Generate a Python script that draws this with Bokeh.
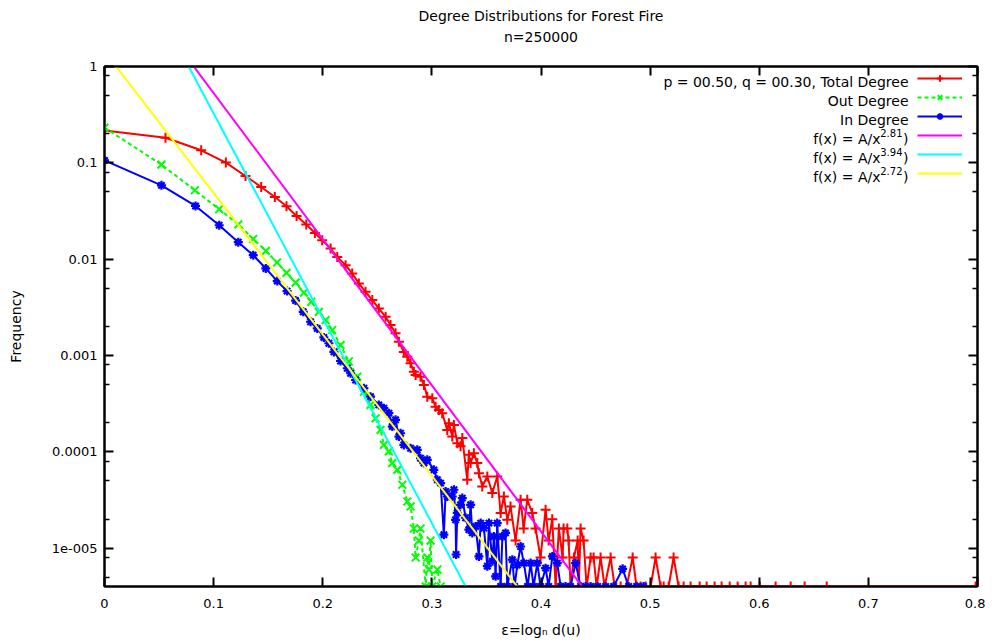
from bokeh.plotting import figure
from bokeh.models import (Range1d, FixedTicker, LogAxis, LinearAxis,
                          Legend, LegendItem, Label)
from bokeh.embed import file_html
from bokeh.resources import INLINE

N_NODES = 250000

# ---------------- data ----------------
total_eps = [0.0, 0.0559, 0.0886, 0.1112, 0.1292, 0.1436, 0.1561, 0.1668, 0.1760, 0.1849,
             0.1928, 0.1995, 0.2072, 0.2133, 0.2209, 0.2270, 0.2331, 0.2392, 0.2454, 0.2514,
             0.2576, 0.2621, 0.2667, 0.2698, 0.2743, 0.2775, 0.2805, 0.2835, 0.2851, 0.2896,
             0.2927, 0.2958, 0.3004, 0.3034, 0.3064, 0.3095, 0.3141, 0.3156, 0.3187, 0.3202,
             0.3233, 0.3263, 0.3279, 0.3324, 0.3339, 0.3355, 0.3385, 0.3416, 0.3431, 0.3462,
             0.3508, 0.3554, 0.3599, 0.3630, 0.3660, 0.3691, 0.3721, 0.3767, 0.3813, 0.3841,
             0.3874, 0.3920, 0.3950, 0.3996, 0.4042, 0.4070, 0.4103, 0.4134, 0.4164, 0.4198,
             0.4207, 0.4241, 0.4253, 0.4271, 0.4302, 0.4336, 0.4347, 0.4363, 0.4390, 0.4418,
             0.4455, 0.4482, 0.4510, 0.4546, 0.4583, 0.4638, 0.4675, 0.4730, 0.4785, 0.4840,
             0.4876, 0.4913, 0.4959, 0.5005, 0.5050, 0.5096, 0.5124, 0.5170, 0.5215, 0.5261,
             0.5307, 0.5371, 0.5454, 0.5518, 0.5591, 0.5655, 0.5729, 0.5802, 0.5875, 0.5921,
             0.6004, 0.6150, 0.6288, 0.6416, 0.6618, 0.7983]
total_freq = [0.217, 0.182, 0.135, 0.1005, 0.0730, 0.0561, 0.0442, 0.0354, 0.0281, 0.0229,
              0.0187, 0.01574, 0.01290, 0.01056, 0.00867, 0.00711, 0.00560, 0.00458, 0.00376, 0.00308,
              0.00252, 0.00207, 0.00170, 0.00139, 0.00109, 0.000972, 0.000830, 0.000679, 0.000628, 0.000603,
              0.000494, 0.000374, 0.000360, 0.000294, 0.000272, 0.000252, 0.000169, 0.000198, 0.000144, 0.000190,
              0.000123, 0.000114, 0.000139, 5.13e-5, 9.31e-5, 7.64e-5, 9.69e-5, 7.64e-5, 6.01e-5, 4.37e-5,
              5.55e-5, 3.73e-5, 5.55e-5, 2.32e-5, 3.44e-5, 1.97e-5, 2.71e-5, 1.2e-5, 3.18e-5, 1.6e-5,
              3.18e-5, 2.32e-5, 1.6e-5, 8e-6, 2.51e-5, 1.2e-5, 2e-5, 4e-6, 1.6e-5, 8e-6,
              1.6e-5, 1.6e-5, 1.2e-5, 4e-6, 8e-6, 1.2e-5, 4e-6, 1.6e-5, 1.2e-5, 4e-6,
              8e-6, 8e-6, 4e-6, 8e-6, 4e-6, 8e-6, 4e-6, 4e-6, 4e-6, 8e-6,
              4e-6, 4e-6, 4e-6, 4e-6, 8e-6, 4e-6, 4e-6, 4e-6, 8e-6, 4e-6,
              4e-6, 4e-6, 4e-6, 4e-6, 4e-6, 4e-6, 4e-6, 4e-6, 4e-6, 4e-6,
              4e-6, 4e-6, 4e-6, 4e-6, 4e-6, 4e-6]

out_eps = [0.0, 0.0522, 0.0828, 0.1051, 0.1226, 0.1363, 0.1478, 0.1581, 0.1668, 0.1751,
           0.1827, 0.1895, 0.1964, 0.2026, 0.2087, 0.2163, 0.2239, 0.2316, 0.2377, 0.2438,
           0.2484, 0.2530, 0.2560, 0.2606, 0.2637, 0.2683, 0.2729, 0.2775, 0.2805, 0.2835,
           0.2851, 0.2881, 0.2896, 0.2943, 0.2958, 0.2973, 0.2988, 0.3004, 0.3050, 0.3080]
out_freq = [0.2317, 0.0958, 0.0519, 0.0330, 0.0230, 0.0162, 0.0122, 0.00924, 0.00721, 0.00571,
            0.00450, 0.00361, 0.00284, 0.00233, 0.00184, 0.00128, 0.000867, 0.000603, 0.000421, 0.000307,
            0.000223, 0.000169, 0.000118, 0.000101, 7.64e-5, 6.50e-5, 4.55e-5, 3.05e-5, 2.71e-5, 1.6e-5,
            8e-6, 1.2e-5, 1.6e-5, 4e-6, 8e-6, 6e-6, 1.2e-5, 4e-6, 6e-6, 4e-6]

in_eps = [0.0, 0.0522, 0.0834, 0.1051, 0.1226, 0.1363, 0.1478, 0.1583, 0.1673, 0.1751,
          0.1821, 0.1888, 0.1950, 0.2010, 0.2056, 0.2102, 0.2163, 0.2225, 0.2255, 0.2301,
          0.2377, 0.2438, 0.2514, 0.2560, 0.2606, 0.2637, 0.2667, 0.2698, 0.2713, 0.2743,
          0.2805, 0.2866, 0.2896, 0.2927, 0.2958, 0.3018, 0.3050, 0.3080, 0.3110, 0.3126,
          0.3141, 0.3187, 0.3202, 0.3217, 0.3222, 0.3233, 0.3263, 0.3279, 0.3309, 0.3339,
          0.3355, 0.3370, 0.3401, 0.3431, 0.3447, 0.3477, 0.3508, 0.3523, 0.3554, 0.3568,
          0.3584, 0.3599, 0.3630, 0.3646, 0.3675, 0.3691, 0.3737, 0.3758, 0.3783, 0.3813,
          0.3843, 0.3877, 0.3905, 0.3932, 0.3966, 0.3996, 0.4042, 0.4070, 0.4104, 0.4149,
          0.4180, 0.4225, 0.4271, 0.4317, 0.4363, 0.4409, 0.4455, 0.4519, 0.4592, 0.4665,
          0.4748, 0.4803, 0.4876, 0.4940]
in_freq = [0.1061, 0.0584, 0.0357, 0.0225, 0.0150, 0.0110, 0.00801, 0.00592, 0.00466, 0.00372,
           0.00284, 0.00224, 0.00191, 0.00154, 0.00134, 0.00109, 0.000877, 0.000737, 0.000654, 0.000557,
           0.000457, 0.000374, 0.000307, 0.000284, 0.000252, 0.000183, 0.000215, 0.000144, 0.000156, 0.000118,
           0.000109, 0.000105, 8.59e-5, 7.64e-5, 8.26e-5, 6.50e-5, 5.13e-5, 4.73e-5, 1.38e-5, 3.88e-5,
           3.44e-5, 3.44e-5, 4.04e-5, 1.97e-5, 8.6e-6, 2.32e-5, 2.82e-5, 3.31e-5, 2.07e-5, 1.56e-5,
           2.82e-5, 1.44e-5, 1.68e-5, 8.2e-6, 1.82e-5, 1.62e-5, 6.5e-6, 1.82e-5, 7.3e-6, 1.32e-5,
           5.1e-6, 1.82e-5, 4e-6, 1.32e-5, 1.44e-5, 4e-6, 7.6e-6, 4e-6, 6.7e-6, 1.04e-5,
           7.0e-6, 4e-6, 7.0e-6, 4e-6, 7.0e-6, 4e-6, 6.2e-6, 4e-6, 8.2e-6, 7.0e-6,
           4e-6, 4e-6, 4e-6, 7e-6, 4e-6, 4e-6, 4e-6, 4e-6, 4e-6, 4e-6,
           6.1e-6, 4e-6, 4e-6, 4e-6]

fit_exponents = [2.81, 3.94, 2.72]
fit_amplitudes = [17.4, 43.6, 1.43]
fit_exponent_labels = ["2.81", "3.94", "2.72"]
fit_colors = ["#ff00ff", "#00ffff", "#ffff00"]

series_labels = ["p = 00.50, q = 00.30, Total Degree", "Out Degree", "In Degree"]

title_lines = ["Degree Distributions for Forest Fire", "n=250000"]
x_label = "ε=logₙ d(u)"
y_label = "Frequency"

x_ticks = [0.0, 0.1, 0.2, 0.3, 0.4, 0.5, 0.6, 0.7, 0.8]
x_tick_labels = ["0", "0.1", "0.2", "0.3", "0.4", "0.5", "0.6", "0.7", "0.8"]
y_ticks = [1e-05, 0.0001, 0.001, 0.01, 0.1, 1.0]
y_tick_labels = ["1e-005", "0.0001", "0.001", "0.01", "0.1", "1"]
y_minor_ticks = [m * 10.0 ** k for k in range(-6, 0) for m in (2, 5, 8)]

X_MIN, X_MAX = 0.0, 0.8
Y_MIN, Y_MAX = 1.0 / N_NODES, 1.0

FONT = "DejaVu Sans"

# ---------------- figure ----------------
W, H = 985, 640
ML, MR, MT, MB = 104, 8, 66, 53
FRAME_W, FRAME_H = W - ML - MR, H - MT - MB

p = figure(width=W, height=H, y_axis_type="log",
           x_range=Range1d(X_MIN, X_MAX), y_range=Range1d(Y_MIN, Y_MAX),
           output_backend="svg", toolbar_location=None,
           min_border_left=ML, min_border_right=MR, min_border_top=MT, min_border_bottom=MB,
           title=title_lines[0])
p.grid.visible = False
p.outline_line_color = "black"
p.outline_line_width = 2
p.background_fill_color = "white"
p.border_fill_color = "white"

p.title.align = "center"
p.title.text_font = FONT
p.title.text_font_size = "14px"
p.title.text_font_style = "normal"
p.title.text_color = "black"
p.title.standoff = 4


def style_axis(ax, show_labels):
    ax.axis_line_width = 2
    ax.axis_line_color = "black"
    ax.major_tick_in = 9
    ax.major_tick_out = 0
    ax.minor_tick_in = 5
    ax.minor_tick_out = 0
    ax.major_tick_line_width = 2
    ax.minor_tick_line_width = 1.5
    ax.major_label_text_font = FONT
    ax.axis_label_text_font = FONT
    ax.axis_label_text_font_style = "normal"
    ax.axis_label_text_font_size = "14px"
    ax.axis_label_text_color = "black"
    ax.major_label_text_color = "black"
    ax.major_label_text_font_size = "13px"
    if not show_labels:
        ax.major_label_text_color = None
        ax.major_label_text_font_size = "2px"
        ax.major_label_standoff = 0


xt = FixedTicker(ticks=x_ticks, minor_ticks=[])
yt = FixedTicker(ticks=y_ticks, minor_ticks=y_minor_ticks)

xa = p.xaxis[0]
xa.ticker = xt
xa.major_label_overrides = dict(zip(x_ticks, x_tick_labels))
xa.axis_label = x_label
style_axis(xa, True)
xa.major_label_standoff = 12
xa.axis_label_standoff = 11

ya = p.yaxis[0]
ya.ticker = yt
ya.major_label_overrides = dict(zip(y_ticks, y_tick_labels))
ya.axis_label = y_label
style_axis(ya, True)
ya.major_label_standoff = 7
ya.axis_label_standoff = 25

# top mirror axis; its axis label carries the second title line
top_axis = LinearAxis(ticker=xt)
style_axis(top_axis, False)
top_axis.axis_label = title_lines[1]
top_axis.axis_label_standoff = 22
p.add_layout(top_axis, "above")

right_axis = LogAxis(ticker=yt)
style_axis(right_axis, False)
p.add_layout(right_axis, "right")

# ---------------- series ----------------
r_tot_l = p.line(total_eps, total_freq, line_color="#ff0000", line_width=2)
r_tot_p = p.scatter(total_eps, total_freq, marker="cross", size=10,
                    line_color="#ff0000", line_width=2)
r_out_l = p.line(out_eps, out_freq, line_color="#00ff00", line_width=2, line_dash="4 3")
r_out_p = p.scatter(out_eps, out_freq, marker="x", size=11,
                    line_color="#00ff00", line_width=2)
r_in_l = p.line(in_eps, in_freq, line_color="#0000ff", line_width=2)
r_in_p = p.scatter(in_eps, in_freq, marker="asterisk", size=9,
                   line_color="#0000ff", line_width=2.2)

fit_renderers = []
for k, a, c in zip(fit_exponents, fit_amplitudes, fit_colors):
    fx = [X_MIN, X_MAX]
    fy = [a * N_NODES ** (-k * x) for x in fx]
    fit_renderers.append(p.line(fx, fy, line_color=c, line_width=2))

# ---------------- key (gnuplot style: text right, sample at right) ----------------
items = [LegendItem(label="\u00a0", renderers=[r_tot_l, r_tot_p]),
         LegendItem(label="\u00a0", renderers=[r_out_l, r_out_p]),
         LegendItem(label="\u00a0", renderers=[r_in_l, r_in_p])]
items += [LegendItem(label="\u00a0", renderers=[r]) for r in fit_renderers]
legend = Legend(items=items, location="top_right", margin=4, padding=4, spacing=3,
                glyph_width=45, glyph_height=16, label_width=7, label_height=16,
                label_standoff=4, label_text_font_size="8px",
                border_line_color=None, background_fill_alpha=0)
p.add_layout(legend)

ROW0, PITCH = 16, 19
TEXT_RIGHT = FRAME_W - 69
for i, txt in enumerate(series_labels):
    p.add_layout(Label(x=TEXT_RIGHT, y=FRAME_H - ROW0 - PITCH * i, x_units="screen", y_units="screen",
                       text=txt, text_align="right", text_baseline="middle",
                       text_font=FONT, text_font_size="14px", text_color="black"))
for j, sup in enumerate(fit_exponent_labels):
    yy = FRAME_H - ROW0 - PITCH * (j + 3)
    p.add_layout(Label(x=TEXT_RIGHT, y=yy, x_units="screen", y_units="screen",
                       text=")", text_align="right", text_baseline="middle",
                       text_font=FONT, text_font_size="14px", text_color="black"))
    p.add_layout(Label(x=TEXT_RIGHT - 6, y=yy + 6, x_units="screen", y_units="screen",
                       text=sup, text_align="right", text_baseline="middle",
                       text_font=FONT, text_font_size="10px", text_color="black"))
    p.add_layout(Label(x=TEXT_RIGHT - 28, y=yy, x_units="screen", y_units="screen",
                       text="f(x) = A/x", text_align="right", text_baseline="middle",
                       text_font=FONT, text_font_size="14px", text_color="black"))

open("out.html", "w").write(file_html(p, INLINE))
